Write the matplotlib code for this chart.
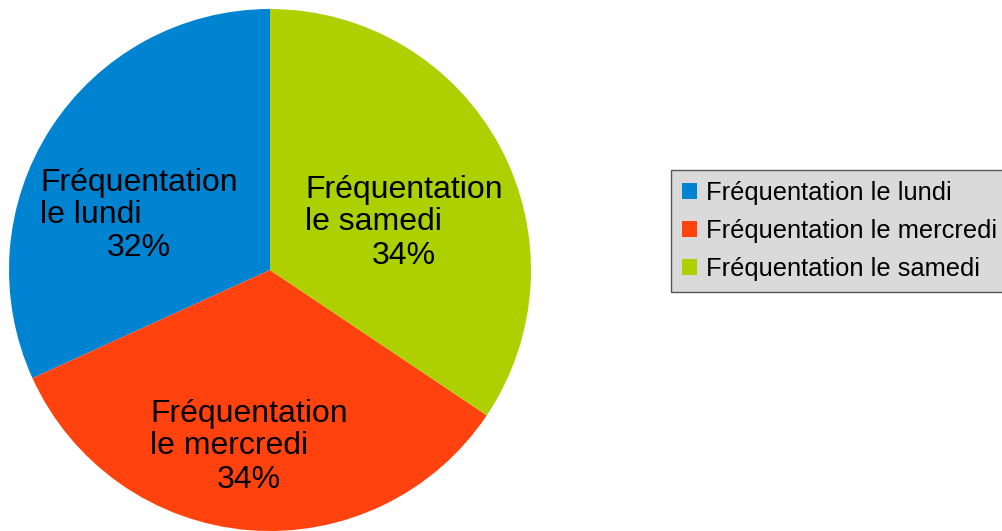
import matplotlib
matplotlib.use("Agg")
import matplotlib.pyplot as plt
from matplotlib.patches import Patch

categories = ["Fréquentation le lundi", "Fréquentation le mercredi", "Fréquentation le samedi"]
label_names = ["Fréquentation\nle lundi", "Fréquentation\nle mercredi", "Fréquentation\nle samedi"]
values = [31.8, 33.8, 34.4]
colors = ["#0084d1", "#ff420e", "#aecf00"]

plt.rcParams['font.family'] = ['Liberation Sans', 'DejaVu Sans']

W, H = 1002, 531
fig = plt.figure(figsize=(W / 100, H / 100), dpi=100)
cx, cy, r = 270, 270, 261
ax = fig.add_axes([(cx - r) / W, (H - cy - r) / H, 2 * r / W, 2 * r / H])
ax.pie(values, colors=colors, startangle=90, counterclock=True, radius=1,
       wedgeprops=dict(linewidth=0))
ax.set_xlim(-1, 1)
ax.set_ylim(-1, 1)
ax.axis('off')

def px(x, y):
    return (x - cx) / r, (cy - y) / r

# label positions (pixel coords of block centers)
name_pos = [(139, 199), (249, 430), (404, 206)]
pct_pos = [(139, 248), (249, 480), (404, 256)]
for name, v, (nx, ny), (qx, qy) in zip(label_names, values, name_pos, pct_pos):
    x, y = px(nx, ny)
    ax.text(x, y, name, ha='center', va='center', multialignment='left',
            fontsize=23, linespacing=1.08, color='black')
    x, y = px(qx, qy)
    ax.text(x, y, f"{round(v)}%", ha='center', va='center', fontsize=23, color='black')

handles = [Patch(facecolor=c, edgecolor='none') for c in colors]
leg = fig.legend(handles, categories, loc='upper left',
                 bbox_to_anchor=(671 / W, 1 - 170 / H), fontsize=18.4,
                 frameon=True, fancybox=False, handlelength=0.6, handleheight=0.6,
                 handletextpad=0.35, labelspacing=0.55, borderpad=0.43, borderaxespad=0)
fr = leg.get_frame()
fr.set_facecolor('#dadada')
fr.set_edgecolor('#555555')
fr.set_linewidth(1.0)
fr.set_alpha(1)

fig.savefig("out.png", dpi=100)
